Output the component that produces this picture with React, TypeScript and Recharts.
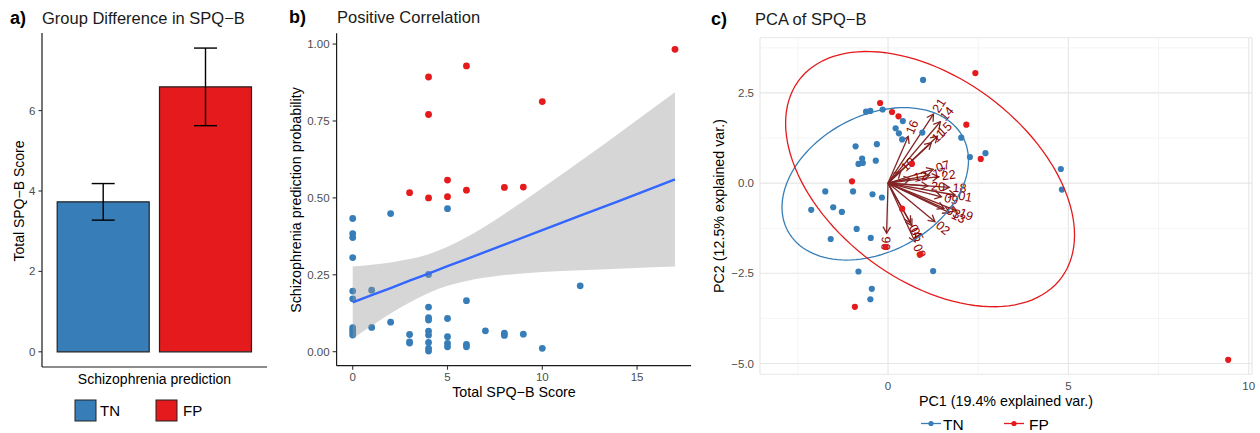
import React from 'react';
import {
  BarChart, Bar, Cell, XAxis, YAxis, ErrorBar, ComposedChart, Scatter, Area, Line,
  CartesianGrid, ReferenceLine,
} from 'recharts';

const FONT = '"Liberation Sans", Arial, Helvetica, sans-serif';
const BLUE = '#377EB8';
const RED = '#E41A1C';
const TICK_GREY = '#4d4d4d';
const ARROW = '#832424';
const LABEL_RED = '#8B0000';

// ---------- Panel a: group difference ----------
const groups = ['TN', 'FP'];
const groupMeans = [3.73, 6.59];
const groupSE = [0.455, 0.965];
const groupColors = [BLUE, RED];
const aTicks = [0, 2, 4, 6];

// ---------- Panel b: correlation ----------
const tnScore = [0, 0, 0, 0, 0, 0, 0, 0, 0, 0, 1, 1, 2, 2, 3, 3, 3, 4, 4, 4, 4, 4, 4, 4, 4, 4, 5, 5, 5, 5, 5, 6, 6, 6, 7, 8, 8, 9, 10, 12];
const tnProb = [0.433, 0.384, 0.371, 0.306, 0.197, 0.172, 0.078, 0.070, 0.054, 0.062, 0.200, 0.079, 0.449, 0.096, 0.056, 0.032, 0.028, 0.251, 0.145, 0.111, 0.103, 0.067, 0.054, 0.030, 0.011, 0.002, 0.465, 0.108, 0.049, 0.027, 0.016, 0.166, 0.024, 0.016, 0.068, 0.060, 0.053, 0.057, 0.011, 0.214];
const fpScore = [17, 6, 4, 10, 4, 5, 3, 6, 8, 9, 4, 5];
const fpProb = [0.983, 0.929, 0.893, 0.813, 0.771, 0.558, 0.517, 0.525, 0.534, 0.535, 0.500, 0.504];
const fitX = [0, 1, 2, 3, 4, 5, 6, 8, 10, 12, 14, 17];
const fitY = [0.160, 0.184, 0.207, 0.231, 0.254, 0.278, 0.301, 0.348, 0.395, 0.442, 0.489, 0.560];
const bandLo = [0.043, 0.084, 0.124, 0.160, 0.191, 0.214, 0.230, 0.249, 0.259, 0.265, 0.270, 0.277];
const bandHi = [0.277, 0.283, 0.290, 0.301, 0.317, 0.341, 0.372, 0.448, 0.532, 0.619, 0.708, 0.843];
const bXTicks = [0, 5, 10, 15];
const bYTicks = [0, 0.25, 0.5, 0.75, 1];

// ---------- Panel c: PCA biplot ----------
const tnPC1 = [0.97, -0.61, -0.49, -0.15, 0.41, 0.21, 0.30, 0.39, 0.95, 2.03, 2.27, 2.70, 4.79, 4.82, -0.90, -0.31, -0.72, -0.82, -0.70, -0.34, -1.74, -0.97, -0.43, -0.17, -2.13, -1.52, -1.28, -0.87, -1.59, -0.48, -0.82, 1.25, -0.45, -0.49];
const tnPC2 = [2.86, 1.98, 2.00, 2.04, 1.72, 1.52, 1.38, 1.21, 1.40, 1.26, 0.72, 0.83, 0.39, -0.18, 1.02, 1.08, 0.68, 0.53, 0.56, 0.62, -0.23, -0.23, -0.31, -0.40, -0.74, -0.67, -0.80, -1.27, -1.55, -1.52, -2.45, -2.44, -2.93, -3.22];
const fpPC1 = [2.42, -0.22, 0.11, 0.29, 2.17, 2.57, 0.66, -1.00, 0.39, -0.07, 0.90, -0.92, 9.43];
const fpPC2 = [3.05, 2.22, 1.97, 1.85, 1.62, 0.67, 0.53, 0.05, -0.71, -1.77, -1.97, -3.43, -4.90];
const itemNames = ['01', '02', '03', '04', '05', '06', '07', '08', '09', '10', '11', '12', '13', '14', '15', '16', '17', '18', '19', '20', '21', '22'];
const itemPC1 = [1.86, 1.30, 1.55, 0.62, 0.66, -0.04, 1.25, 0.75, 1.48, 0.35, 1.20, 0.62, 1.70, 1.45, 1.37, 0.56, 1.15, 1.70, 1.90, 1.10, 1.26, 1.40];
const itemPC2 = [-0.33, -1.07, -0.70, -1.10, -1.18, -1.39, 0.38, -1.63, -0.38, 0.32, 1.12, 0.12, -0.82, 1.70, 1.30, 1.29, 0.22, -0.12, -0.77, -0.08, 1.91, 0.18];
// data ellipses: centre and Cholesky factor of the covariance
const tnEllipse = { cx: -0.355, cy: -0.02, l11: 2.585, l21: 0.65, l22: 2.01 };
const fpEllipse = { cx: 1.165, cy: 0.11, l11: 4.005, l21: -1.55, l22: 3.18 };
const cXTicks = [0, 5, 10];
const cYTicks = [-5, -2.5, 0, 2.5];
const cXMinor = [-2.5, 2.5, 7.5];
const cYMinor = [-3.75, -1.25, 1.25, 3.75];

const ellipsePoints = (e: { cx: number; cy: number; l11: number; l21: number; l22: number }) => {
  const pts: { x: number; y: number }[] = [];
  const n = 120;
  for (let i = 0; i <= n; i++) {
    const t = (2 * Math.PI * i) / n;
    pts.push({ x: e.cx + e.l11 * Math.cos(t), y: e.cy + e.l21 * Math.cos(t) + e.l22 * Math.sin(t) });
  }
  return pts;
};

const tickStyle = { fill: TICK_GREY, fontSize: 11.5, fontFamily: FONT };
const minusFmt = (v: number, d: number) => (v < 0 ? '\u2212' : '') + Math.abs(v).toFixed(d);

const dotShape = (color: string, r: number) => (p: any) =>
  p.cx == null ? <g /> : <circle cx={p.cx} cy={p.cy} r={r} fill={color} />;

const ArrowShape = (props: any) => {
  const { x1, y1, x2, y2, mode, label } = props;
  const dx = x2 - x1;
  const dy = y2 - y1;
  const len = Math.hypot(dx, dy) || 1;
  const back = Math.atan2(-dy / len, -dx / len);
  const hl = 7.5;
  const ha = Math.PI / 6;
  if (mode === 'arrow') {
    const p1 = `${x2 + hl * Math.cos(back + ha)},${y2 + hl * Math.sin(back + ha)}`;
    const p2 = `${x2 + hl * Math.cos(back - ha)},${y2 + hl * Math.sin(back - ha)}`;
    return (
      <g>
        <line x1={x1} y1={y1} x2={x2} y2={y2} stroke={ARROW} strokeWidth={1.3} />
        <polyline points={`${p1} ${x2},${y2} ${p2}`} fill="none" stroke={ARROW} strokeWidth={1.3} />
      </g>
    );
  }
  const ang = (Math.atan((y1 - y2) / (x2 - x1)) * 180) / Math.PI;
  const pos = dx >= 0;
  return (
    <text
      x={x2}
      y={y2}
      dx={pos ? 3.3 : -3.3}
      transform={`rotate(${-ang} ${x2} ${y2})`}
      textAnchor={pos ? 'start' : 'end'}
      dominantBaseline="central"
      fill={LABEL_RED}
      fontSize={12.5}
      fontFamily={FONT}
    >
      {label}
    </text>
  );
};

export default function App() {
  const aData = groups.map((g, i) => ({ group: g, mean: groupMeans[i], se: groupSE[i] }));
  const bLine = fitX.map((x, i) => ({ x, fit: fitY[i], band: [bandLo[i], bandHi[i]] }));
  const tnB = tnScore.map((x, i) => ({ x, y: tnProb[i] }));
  const fpB = fpScore.map((x, i) => ({ x, y: fpProb[i] }));
  const tnC = tnPC1.map((x, i) => ({ x, y: tnPC2[i] }));
  const fpC = fpPC1.map((x, i) => ({ x, y: fpPC2[i] }));
  const tnEll = ellipsePoints(tnEllipse);
  const fpEll = ellipsePoints(fpEllipse);
  const items = itemNames.map((n, i) => ({ n, x: itemPC1[i], y: itemPC2[i] }));

  const axisLineStyle = { stroke: '#1a1a1a', strokeWidth: 1.2 };
  const tickLineStyle = { stroke: '#333', strokeWidth: 1.1 };
  const scatterUnder: any = { zIndex: 50 };

  return (
    <div style={{ position: 'absolute', left: 0, top: 0, width: 1260, height: 433, background: '#fff', overflow: 'hidden', fontFamily: FONT }}>
      {/* Panel a */}
      <div style={{ position: 'absolute', left: 0, top: 0 }}>
        <BarChart width={280} height={433} data={aData} margin={{ top: 33, right: 13, bottom: 56, left: 12 }}>
          <XAxis dataKey="group" type="category" height={10} tick={false} tickLine={false} axisLine={axisLineStyle} padding={{ left: 10.2, right: 10.2 }} />
          <YAxis width={30} type="number" domain={[-0.378, 7.93]} ticks={aTicks} allowDataOverflow tick={tickStyle} tickSize={3.5} tickMargin={3} tickLine={tickLineStyle} axisLine={axisLineStyle} />
          <Bar dataKey="mean" barSize={92} stroke="#222" strokeWidth={1.2} isAnimationActive={false}>
            {aData.map((d, i) => (
              <Cell key={d.group} fill={groupColors[i]} />
            ))}
            <ErrorBar dataKey="se" width={11.5} stroke="#000" strokeWidth={1.4} />
          </Bar>
        </BarChart>
      </div>

      {/* Panel b */}
      <div style={{ position: 'absolute', left: 280, top: 0 }}>
        <ComposedChart width={420} height={433} data={bLine} margin={{ top: 33.3, right: 8.9, bottom: 42.3, left: 16.6 }}>
          <XAxis dataKey="x" type="number" domain={[-0.85, 17.85]} ticks={bXTicks} allowDataOverflow height={25} tick={tickStyle} tickSize={4} tickMargin={3} tickLine={tickLineStyle} axisLine={axisLineStyle} />
          <YAxis type="number" domain={[-0.0455, 1.035]} ticks={bYTicks} allowDataOverflow width={40} tick={tickStyle} tickFormatter={(v: number) => v.toFixed(2)} tickSize={4} tickMargin={3} tickLine={tickLineStyle} axisLine={axisLineStyle} />
          <Scatter data={tnB} dataKey="y" fill={BLUE} shape={dotShape(BLUE, 3.4)} isAnimationActive={false} {...scatterUnder} />
          <Scatter data={fpB} dataKey="y" fill={RED} shape={dotShape(RED, 3.4)} isAnimationActive={false} {...scatterUnder} />
          <Area dataKey="band" type="monotone" stroke="none" fill="#999999" fillOpacity={0.4} isAnimationActive={false} />
          <Line dataKey="fit" type="linear" stroke="#3366FF" strokeWidth={2.4} dot={false} isAnimationActive={false} />
        </ComposedChart>
      </div>

      {/* Panel c */}
      <div style={{ position: 'absolute', left: 690, top: 0 }}>
        <ComposedChart width={570} height={433} margin={{ top: 37.7, right: 8, bottom: 38.7, left: 40 }}>
          <CartesianGrid stroke="#e6e6e6" strokeWidth={1.1} />
          <XAxis dataKey="x" type="number" domain={[-3.55, 10.09]} ticks={cXTicks} allowDataOverflow height={20} tick={tickStyle} axisLine={false} tickLine={false} tickSize={0} tickMargin={8} />
          <YAxis type="number" domain={[-5.3, 4.03]} ticks={cYTicks} allowDataOverflow width={30} tick={tickStyle} tickFormatter={(v: number) => minusFmt(v, 1)} axisLine={false} tickLine={false} tickSize={0} tickMargin={6} />
          {cXMinor.map((v) => (
            <ReferenceLine key={`mx${v}`} x={v} stroke="#f1f1f1" strokeWidth={0.8} />
          ))}
          {cYMinor.map((v) => (
            <ReferenceLine key={`my${v}`} y={v} stroke="#f1f1f1" strokeWidth={0.8} />
          ))}
          <Scatter data={tnC} dataKey="y" fill={BLUE} shape={dotShape(BLUE, 3.1)} isAnimationActive={false} />
          <Scatter data={fpC} dataKey="y" fill={RED} shape={dotShape(RED, 3.1)} isAnimationActive={false} />
          <Scatter data={tnEll} dataKey="y" line={{ stroke: BLUE, strokeWidth: 1.3 }} shape={() => <g />} isAnimationActive={false} />
          <Scatter data={fpEll} dataKey="y" line={{ stroke: RED, strokeWidth: 1.3 }} shape={() => <g />} isAnimationActive={false} />
          {items.map((it) => (
            <ReferenceLine key={`a${it.n}`} segment={[{ x: 0, y: 0 }, { x: it.x, y: it.y }]} shape={(p: any) => <ArrowShape {...p} mode="arrow" />} />
          ))}
          {items.map((it) => (
            <ReferenceLine key={`l${it.n}`} segment={[{ x: 0, y: 0 }, { x: it.x, y: it.y }]} shape={(p: any) => <ArrowShape {...p} mode="label" label={it.n} />} />
          ))}
        </ComposedChart>
      </div>

      {/* Titles, axis titles and legends */}
      <svg width={1260} height={433} style={{ position: 'absolute', left: 0, top: 0, pointerEvents: 'none' }} fontFamily={FONT}>
        <text x={10} y={24} fontSize={18} fontWeight="bold" fill="#000">a)</text>
        <text x={42} y={24} fontSize={16.5} fill="#1a1a1a">Group Difference in SPQ{'\u2212'}B</text>
        <text x={289} y={23} fontSize={18} fontWeight="bold" fill="#000">b)</text>
        <text x={337} y={23} fontSize={16.5} fill="#1a1a1a">Positive Correlation</text>
        <text x={711} y={25} fontSize={18} fontWeight="bold" fill="#000">c)</text>
        <text x={755} y={25} fontSize={16.5} fill="#1a1a1a">PCA of SPQ{'\u2212'}B</text>

        <text transform="translate(23.5,201) rotate(-90)" textAnchor="middle" fontSize={14} fill="#000">Total SPQ{'\u2212'}B Score</text>
        <text x={154.5} y={384} textAnchor="middle" fontSize={14} fill="#000">Schizophrenia prediction</text>
        <rect x={75} y={400} width={21} height={21} fill={BLUE} stroke="#222" strokeWidth={1} />
        <text x={100} y={416} fontSize={15} fill="#000">TN</text>
        <rect x={156} y={400} width={21} height={21} fill={RED} stroke="#222" strokeWidth={1} />
        <text x={183} y={416} fontSize={15} fill="#000">FP</text>

        <text transform="translate(301,200) rotate(-90)" textAnchor="middle" fontSize={14.3} fill="#000">Schizophrenia prediction probability</text>
        <text x={514} y={397} textAnchor="middle" fontSize={14.3} fill="#000">Total SPQ{'\u2212'}B Score</text>

        <text transform="translate(724,206) rotate(-90)" textAnchor="middle" fontSize={14.3} fill="#000">PC2 (12.5% explained var.)</text>
        <text x={1006} y={405.5} textAnchor="middle" fontSize={14.3} fill="#000">PC1 (19.4% explained var.)</text>
        <line x1={921} y1={423.5} x2={941} y2={423.5} stroke={BLUE} strokeWidth={1.3} />
        <circle cx={931} cy={423.5} r={2.6} fill={BLUE} />
        <text x={943} y={429.5} fontSize={15.5} fill="#000">TN</text>
        <line x1={1004} y1={423.5} x2={1024} y2={423.5} stroke={RED} strokeWidth={1.3} />
        <circle cx={1014} cy={423.5} r={2.6} fill={RED} />
        <text x={1029} y={429.5} fontSize={15.5} fill="#000">FP</text>
      </svg>
    </div>
  );
}
